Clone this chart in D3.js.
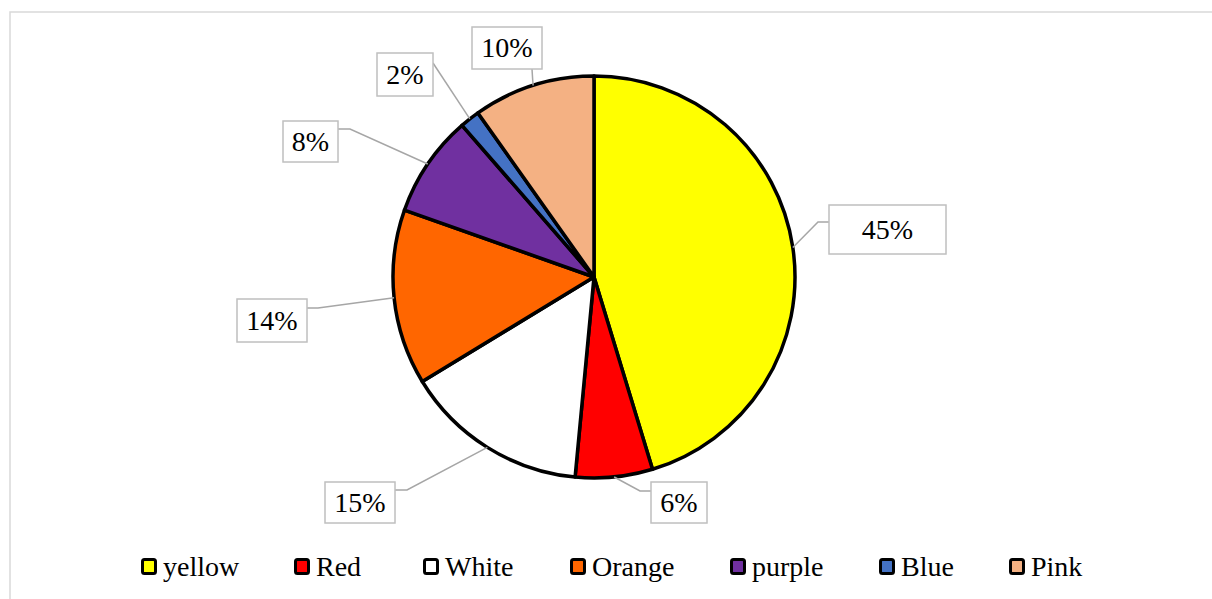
<!DOCTYPE html>
<html><head><meta charset="utf-8">
<script src="https://cdn.jsdelivr.net/npm/d3@7"></script>
</head><body style="margin:0">
<svg id="chart" width="1212" height="599"></svg>
<script>
const categories = ["yellow","Red","White","Orange","purple","Blue","Pink"];
const values = [45.3, 6.2, 14.8, 14.1, 8.2, 1.6, 9.8];
const labels = ["45%","6%","15%","14%","8%","2%","10%"];
const colors = ["#FFFF00","#FF0000","#FFFFFF","#FF6600","#7030A0","#4472C4","#F4B183"];

// label layout: box rect [x,y,w,h], attach point, elbow point
const labelLayout = [
  {box:[829,205,117,49], attach:[829,222], elbow:[818,222]},
  {box:[651,482,56,41], attach:[651,491], elbow:[640,491]},
  {box:[325,482,70,41], attach:[395,490], elbow:[407,490]},
  {box:[237,299,70,43], attach:[307,308], elbow:[318,308]},
  {box:[283,121,55,41], attach:[338,129], elbow:[350,129]},
  {box:[377,53,56,43], attach:[433,63], elbow:[433,63]},
  {box:[472,27,70,42], attach:[532,69], elbow:[532,69]}
];
const legendX = [141,294,423,570,730,879,1009];
const FONTSTYLE = "28px Tinos, 'Liberation Serif', serif";

const svg = d3.select("#chart");
svg.append("rect").attr("x",10).attr("y",12).attr("width",1220).attr("height",600)
  .attr("fill","#fff").attr("stroke","#d9d9d9").attr("stroke-width",1.5);

const cx = 594, cy = 277, R = 201;
const pie = d3.pie().sort(null).value(d=>d)(values);
const arc = d3.arc().innerRadius(0).outerRadius(R);
const g = svg.append("g").attr("transform",`translate(${cx},${cy})`);
g.selectAll("path").data(pie).join("path")
  .attr("d",arc).attr("fill",(d,i)=>colors[i])
  .attr("stroke","#000").attr("stroke-width",3.5).attr("stroke-linejoin","round");

const outer = d3.arc().innerRadius(R).outerRadius(R);
const labG = svg.append("g").attr("font-family","Tinos");
pie.forEach((d,i)=>{
  const L = labelLayout[i];
  const c = outer.centroid(d);
  const p = [cx+c[0], cy+c[1]];
  labG.append("polyline")
    .attr("points",[L.attach,L.elbow,p].map(q=>q.join(",")).join(" "))
    .attr("fill","none").attr("stroke","#a6a6a6").attr("stroke-width",1.5);
  labG.append("rect").attr("x",L.box[0]).attr("y",L.box[1]).attr("width",L.box[2]).attr("height",L.box[3])
    .attr("fill","#fff").attr("stroke","#bfbfbf").attr("stroke-width",1.5);
  labG.append("text").attr("x",L.box[0]+L.box[2]/2).attr("y",L.box[1]+L.box[3]/2 + 9)
    .attr("text-anchor","middle")
    .attr("font-family","Tinos").attr("font-size",28)
    .style("font",FONTSTYLE)
    .text(labels[i]);
});

const legG = svg.append("g").attr("font-family","Tinos");
categories.forEach((c,i)=>{
  legG.append("rect").attr("x",legendX[i]+1.5).attr("y",559.5).attr("width",13).attr("height",14)
    .attr("rx",2).attr("fill",colors[i]).attr("stroke","#000").attr("stroke-width",3);
  legG.append("text").attr("x",legendX[i]+22).attr("y",576)
    .attr("font-family","Tinos").attr("font-size",28)
    .style("font",FONTSTYLE)
    .text(c);
});
</script>
</body></html>
